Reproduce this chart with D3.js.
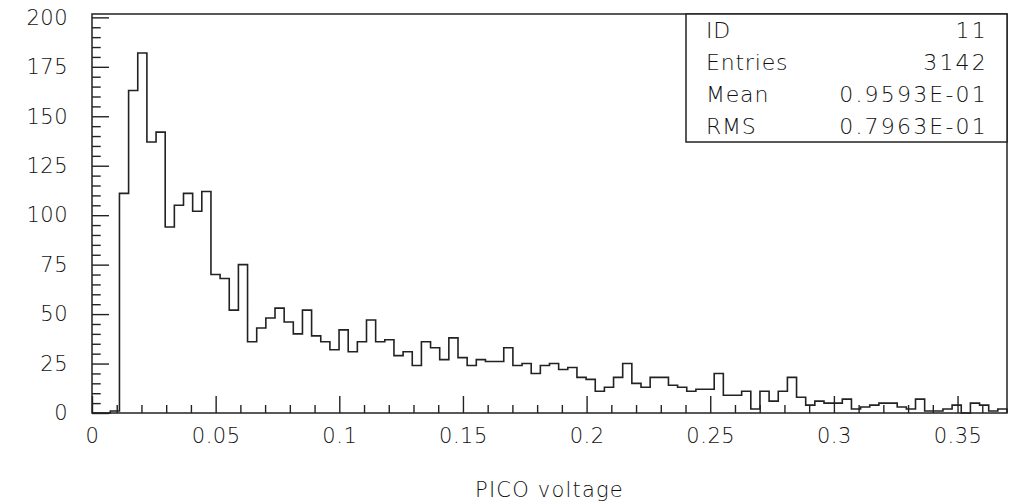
<!DOCTYPE html>
<html>
<head>
<meta charset="utf-8">
<script src="https://cdn.jsdelivr.net/npm/d3@7"></script>
<style>
  body { margin: 0; background: #fff; }
  svg { display: block; }
  text { font-family: "DejaVu Sans", sans-serif; font-weight: 200; fill: #111; }
</style>
</head>
<body>
<script>
(function(){

// histogram ID 11, 100 bins from 0 to 0.37
var xRange = [0, 0.37];
var counts = [
    0, 0, 1, 111, 163, 182, 137, 142, 94, 105,
    111, 102, 112, 70, 68, 52, 75, 36, 43, 48,
    53, 46, 40, 52, 39, 36, 32, 42, 31, 36,
    47, 36, 37, 29, 31, 24, 36, 33, 27, 38,
    28, 24, 27, 26, 26, 33, 24, 25, 20, 24,
    25, 22, 23, 18, 17, 11, 13, 18, 25, 15,
    13, 18, 18, 14, 13, 11, 12, 12, 20, 9,
    9, 11, 2, 11, 6, 11, 18, 8, 4, 6,
    5, 5, 7, 2, 3, 4, 5, 5, 3, 2,
    7, 1, 1, 2, 4, 0, 5, 4, 1, 2
];
var yMax = 201.7;

var yMajorTicks = [0, 25, 50, 75, 100, 125, 150, 175, 200];
var yMinorTicks = [5, 10, 15, 20, 30, 35, 40, 45, 55, 60, 65, 70, 80, 85, 90, 95,
    105, 110, 115, 120, 130, 135, 140, 145, 155, 160, 165, 170, 180, 185, 190, 195];
var xMajorTicks = [0, 0.05, 0.1, 0.15, 0.2, 0.25, 0.3, 0.35];
var xMajorLabels = ["0", "0.05", "0.1", "0.15", "0.2", "0.25", "0.3", "0.35"];
var xMinorTicks = [0.01, 0.02, 0.03, 0.04, 0.06, 0.07, 0.08, 0.09, 0.11, 0.12, 0.13, 0.14,
    0.16, 0.17, 0.18, 0.19, 0.21, 0.22, 0.23, 0.24, 0.26, 0.27, 0.28, 0.29,
    0.31, 0.32, 0.33, 0.34, 0.36];

var statLabels = ["ID", "Entries", "Mean", "RMS"];
var statValues = ["11", "3142", "0.9593E-01", "0.7963E-01"];
var xTitle = "PICO voltage";

var width = 1015, height = 504;
var left = 92, right = 1007, top = 14, bottom = 413;
var ink = "#222";

var svg = d3.select("body")
    .append("svg")
    .attr("width", width)
    .attr("height", height);

var x = d3.scaleLinear().domain(xRange).range([left, right]);
var y = d3.scaleLinear().domain([0, yMax]).range([bottom, top]);

//step outline of the histogram
var binW = (xRange[1] - xRange[0]) / counts.length;
var pts = [[x(xRange[0]), y(0)]];
counts.forEach(function(c, i){
    var lo = xRange[0] + i * binW, hi = lo + binW;
    pts.push([x(lo), y(c)]);
    pts.push([x(hi), y(c)]);
});
pts.push([x(xRange[1]), y(0)]);

svg.append("path")
    .attr("d", d3.line()(pts))
    .attr("fill", "none")
    .attr("stroke", ink)
    .attr("stroke-width", 1.6);

//axes, ticks pointing into the frame
function styleAxis(g){
    g.select(".domain").remove();
    g.selectAll("line").attr("stroke", ink).attr("stroke-width", 1.4);
    g.selectAll("text")
        .attr("fill", "#111")
        .style("font-family", "'DejaVu Sans', sans-serif")
        .style("font-weight", 200)
        .style("font-size", "21px")
        .style("letter-spacing", "0.5px");
}

svg.append("g")
    .attr("transform", "translate(" + left + ",0)")
    .call(d3.axisLeft(y).tickValues(yMinorTicks).tickSize(-8.7).tickFormat(""))
    .call(styleAxis);

svg.append("g")
    .attr("transform", "translate(" + left + ",0)")
    .call(d3.axisLeft(y).tickValues(yMajorTicks).tickSize(-17).tickPadding(24))
    .call(styleAxis);

svg.append("g")
    .attr("transform", "translate(0," + bottom + ")")
    .call(d3.axisBottom(x).tickValues(xMinorTicks).tickSize(-8).tickFormat(""))
    .call(styleAxis);

svg.append("g")
    .attr("transform", "translate(0," + bottom + ")")
    .call(d3.axisBottom(x).tickValues(xMajorTicks).tickSize(-17).tickPadding(15)
        .tickFormat(function(d, i){ return xMajorLabels[i]; }))
    .call(styleAxis);

//frame
svg.append("rect")
    .attr("x", left).attr("y", top)
    .attr("width", right - left).attr("height", bottom - top)
    .attr("fill", "none")
    .attr("stroke", ink)
    .attr("stroke-width", 1.5);

//statistics box
var boxL = 686, boxB = 142;
svg.append("rect")
    .attr("x", boxL).attr("y", top)
    .attr("width", right - boxL).attr("height", boxB - top)
    .attr("fill", "#fff")
    .attr("stroke", ink)
    .attr("stroke-width", 1.5);

var rowH = (boxB - top) / statLabels.length;
statLabels.forEach(function(lab, i){
    var yy = top + rowH * (i + 0.5) + 8;
    svg.append("text")
        .attr("x", boxL + 20).attr("y", yy)
        .style("font-size", "22px")
        .style("letter-spacing", "0.8px")
        .text(lab);
    svg.append("text")
        .attr("x", right - 19).attr("y", yy)
        .attr("text-anchor", "end")
        .style("font-size", "22px")
        .style("letter-spacing", "2.2px")
        .text(statValues[i]);
});

svg.append("text")
    .attr("x", (left + right) / 2)
    .attr("y", 497)
    .attr("text-anchor", "middle")
    .style("font-size", "21px")
    .style("letter-spacing", "1.2px")
    .text(xTitle);

})();
</script>
</body>
</html>
